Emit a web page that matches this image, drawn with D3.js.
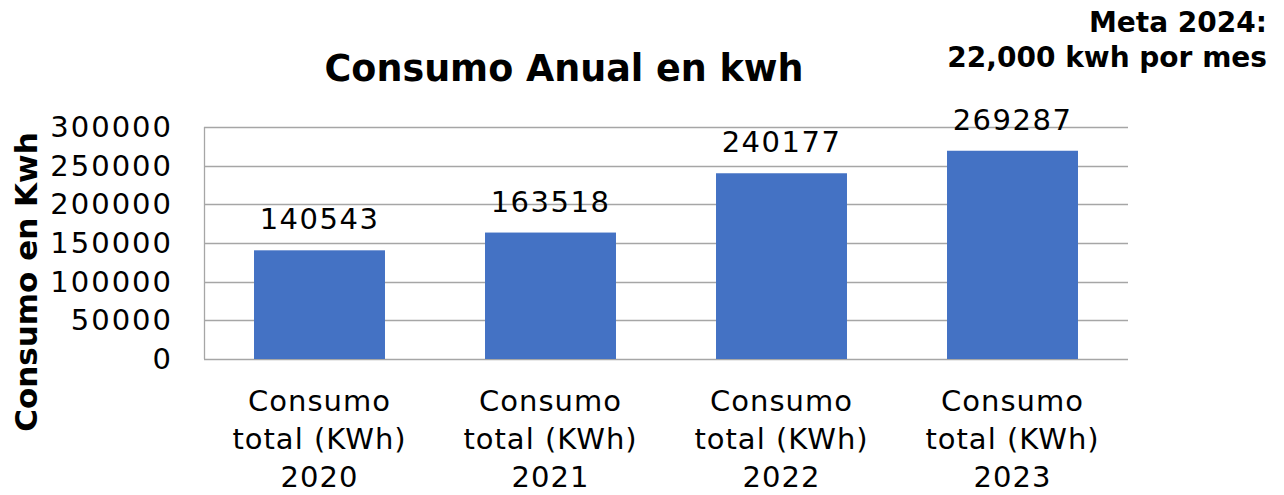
<!DOCTYPE html>
<html>
<head>
<meta charset="utf-8">
<script src="https://cdn.jsdelivr.net/npm/d3@7"></script>
<style>
  body { margin: 0; background: #fff; }
  svg text { font-family: "DejaVu Sans", sans-serif; fill: #000; }
</style>
</head>
<body>
<div id="plot"></div>
<script>
// chart data
var years = ['2020', '2021', '2022', '2023'];
var consumo = [140543, 163518, 240177, 269287];
var yTicks = [0, 50000, 100000, 150000, 200000, 250000, 300000];

var W = 1284, H = 495;
var margin = {t:127, r:156, b:136, l:204};
var width = W - margin.l - margin.r,
	height = H - margin.t - margin.b;

var svg = d3.select('#plot')
	.append('svg')
	.attr('width', W)
	.attr('height', H);

var plot = svg.append('g')
	.attr('transform', 'translate(' + margin.l + ',' + margin.t + ')');

var x = d3.scaleBand().domain(years).range([0, width]).paddingInner(0.433).paddingOuter(0.2165);
var y = d3.scaleLinear().domain([0, 300000]).range([height, 0]);

// gridlines
plot.selectAll('.grid')
	.data(yTicks)
	.enter()
	.append('line')
	.attr('x1', 0)
	.attr('x2', width)
	.attr('y1', function(d){ return Math.round(y(d)) + 0.5; })
	.attr('y2', function(d){ return Math.round(y(d)) + 0.5; })
	.style('stroke', '#a6a6a6')
	.style('stroke-width', '1.3px');

plot.append('line')
	.attr('x1', 0.5).attr('x2', 0.5)
	.attr('y1', 0).attr('y2', height)
	.style('stroke', '#a6a6a6')
	.style('stroke-width', '1.3px');

// bars
plot.selectAll('.bar')
	.data(consumo)
	.enter()
	.append('rect')
	.attr('x', function(d, i){ return x(years[i]); })
	.attr('y', function(d){ return y(d); })
	.attr('width', x.bandwidth())
	.attr('height', function(d){ return height - y(d); })
	.style('fill', '#4472c4');

// value labels
plot.selectAll('.val')
	.data(consumo)
	.enter()
	.append('text')
	.attr('x', function(d, i){ return x(years[i]) + x.bandwidth()/2; })
	.attr('y', function(d){ return y(d) - 21; })
	.attr('text-anchor', 'middle')
	.style('font-size', '29px')
	.style('letter-spacing', '1.5px')
	.text(function(d){ return d; });

// y tick labels
plot.selectAll('.ytick')
	.data(yTicks)
	.enter()
	.append('text')
	.attr('x', -31)
	.attr('y', function(d){ return y(d) + 10; })
	.attr('text-anchor', 'end')
	.style('font-size', '29px')
	.style('letter-spacing', '2px')
	.text(function(d){ return d; });

// category labels
years.forEach(function(yr){
	var lines = ['Consumo', 'total (KWh)', yr];
	var t = plot.append('text')
		.attr('text-anchor', 'middle')
		.style('font-size', '29px')
		.style('letter-spacing', '1px');
	lines.forEach(function(l, j){
		t.append('tspan')
			.attr('x', x(yr) + x.bandwidth()/2)
			.attr('y', height + 52 + j*38)
			.text(l);
	});
});

// title
svg.append('text')
	.attr('x', 564)
	.attr('y', 81)
	.attr('text-anchor', 'middle')
	.style('font-size', '36.5px')
	.style('font-weight', 'bold')
	.text('Consumo Anual en kwh');

// y axis title
svg.append('text')
	.attr('transform', 'translate(37,' + 282 + ') rotate(-90)')
	.attr('text-anchor', 'middle')
	.style('font-size', '31px')
	.style('font-weight', 'bold')
	.text('Consumo en Kwh');

// meta note
svg.append('text')
	.attr('x', 1267)
	.attr('y', 32)
	.attr('text-anchor', 'end')
	.style('font-size', '28px')
	.style('font-weight', 'bold')
	.text('Meta 2024:');
svg.append('text')
	.attr('x', 1267)
	.attr('y', 67)
	.attr('text-anchor', 'end')
	.style('font-size', '28px')
	.style('font-weight', 'bold')
	.text('22,000 kwh por mes');
</script>
</body>
</html>
